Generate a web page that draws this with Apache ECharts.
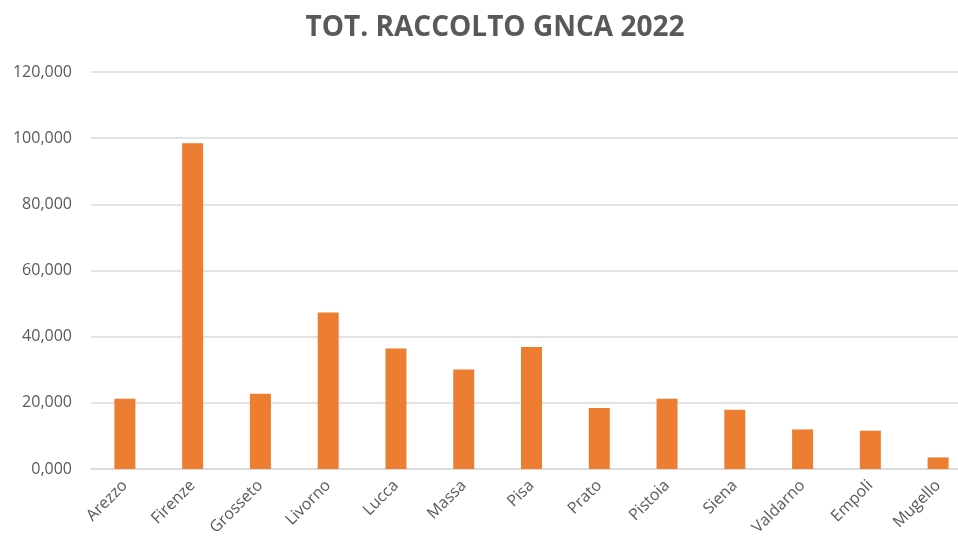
<!DOCTYPE html>
<html>
<head>
<meta charset="utf-8">
<script src="https://cdn.jsdelivr.net/npm/echarts@6/dist/echarts.min.js"></script>
<style>
  html, body { margin: 0; padding: 0; background: #ffffff; }
  #chart { width: 958px; height: 539px; }
</style>
</head>
<body>
<div id="chart"></div>
<script>
// Sezioni
const categories = ['Arezzo', 'Firenze', 'Grosseto', 'Livorno', 'Lucca', 'Massa', 'Pisa',
  'Prato', 'Pistoia', 'Siena', 'Valdarno', 'Empoli', 'Mugello'];
// Totale raccolto per sezione
const totals = [21.24, 98.49, 22.75, 47.31, 36.43, 30.09, 36.86, 18.43, 21.24, 17.92, 11.96, 11.57, 3.50];
// Scala asse Y
const yMin = 0;
const yMax = 120;
const yStep = 20;

const fmt = v => v.toFixed(3).replace('.', ',');
const fontFamily = '"Open Sans", "Noto Sans", sans-serif';
const textGray = '#595959';

const chart = echarts.init(document.getElementById('chart'), null, { renderer: 'canvas' });
chart.setOption({
  backgroundColor: '#ffffff',
  animation: false,
  title: {
    text: 'TOT. RACCOLTO GNCA 2022',
    left: 490,
    textAlign: 'center',
    top: 9,
    textStyle: { fontFamily, fontSize: 28, fontWeight: 'bold', color: textGray }
  },
  grid: {
    left: 91, top: 72, right: -14, bottom: 70,
    containLabel: false,
    outerBoundsMode: 'none'
  },
  xAxis: {
    type: 'category',
    data: categories,
    axisTick: { show: false },
    axisLine: { lineStyle: { color: '#d9d9d9', width: 1.5 } },
    axisLabel: {
      rotate: 45, interval: 0, margin: 14,
      fontFamily, fontSize: 16, color: textGray
    }
  },
  yAxis: {
    type: 'value',
    min: yMin, max: yMax, interval: yStep,
    axisLine: { show: false },
    axisTick: { show: false },
    splitLine: { lineStyle: { color: '#d9d9d9', width: 1.5 } },
    axisLabel: {
      margin: 19, fontFamily, fontSize: 16, color: textGray,
      formatter: fmt
    }
  },
  series: [{
    type: 'bar',
    data: totals,
    barWidth: 21,
    itemStyle: { color: '#ed7d31' }
  }]
});
</script>
</body>
</html>
